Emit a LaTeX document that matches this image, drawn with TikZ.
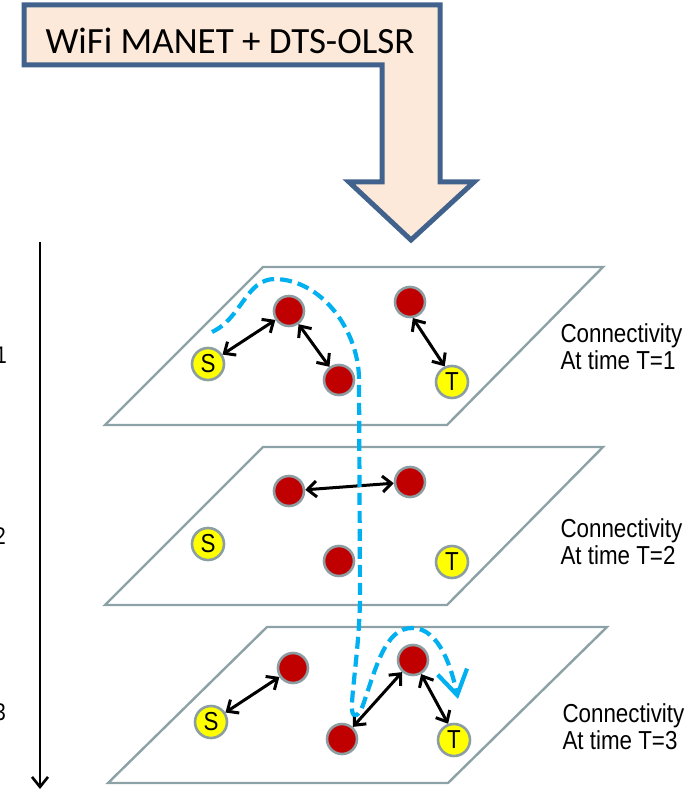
\documentclass[tikz,border=0pt]{standalone}
\usepackage{fontspec}
\setmainfont{Liberation Sans}
\newfontfamily\titlefont{Carlito}
\newfontfamily\narrowfont[FakeStretch=0.86]{Liberation Sans}
\usetikzlibrary{arrows.meta}

\definecolor{arrowedge}{RGB}{65,98,140}
\definecolor{arrowfill}{RGB}{253,233,217}
\definecolor{planeedge}{RGB}{140,162,166}
\definecolor{nodeedge}{RGB}{140,158,162}
\definecolor{nodered}{RGB}{192,0,0}
\definecolor{nodeyellow}{RGB}{255,255,0}
\definecolor{routeblue}{RGB}{0,176,240}

\tikzset{
  plane/.style={draw=planeedge, line width=2.4pt, fill=white},
  relay/.style={circle, fill=nodered, draw=nodeedge, line width=2.6pt,
    minimum size=30pt, inner sep=0pt},
  endpoint/.style={circle, fill=nodeyellow, draw=nodeedge, line width=2.6pt,
    minimum size=32pt, inner sep=0pt,
    font=\narrowfont\fontsize{26pt}{26pt}\selectfont},
  link/.style={line width=3pt, black,
    {Straight Barb[length=9pt,width=16pt]}-{Straight Barb[length=9pt,width=16pt]}},
  route/.style={routeblue, line width=4.2pt, dash pattern=on 12pt off 6pt},
  caption/.style={anchor=west, align=left,
    font=\narrowfont\fontsize{26pt}{27pt}\selectfont},
  tick/.style={anchor=east, inner sep=0pt,
    font=\narrowfont\fontsize{24pt}{24pt}\selectfont}
}

\begin{document}
\begin{tikzpicture}[x=1pt, y=-1pt]
\useasboundingbox (0,0) rectangle (695,791);

% bent banner arrow
\draw[arrowedge, fill=arrowfill, line width=5pt, line join=miter]
  (24,5) -- (440,5) -- (440,182) -- (474,182) -- (411,240)
  -- (349,182) -- (382,182) -- (382,65) -- (24,65) -- cycle;
\node[font=\titlefont\fontsize{37pt}{37pt}\selectfont] (title) at (230,41)
  {WiFi MANET + DTS-OLSR};

% time axis
\coordinate (ttop) at (40,242);
\coordinate (tbot) at (40,789);
\draw[line width=2.6pt, -{Straight Barb[length=10pt,width=16pt]}] (ttop) -- (tbot);
\node[tick] (k1) at (7,355) {1};
\node[tick] (k2) at (6,536) {2};
\node[tick] (k3) at (6,712) {3};

% time slices
\draw[plane] (263,267) -- (603,267) -- (447,425) -- (105,425) -- cycle;
\draw[plane] (263,447) -- (603,447) -- (447,605) -- (105,605) -- cycle;
\draw[plane] (267,627) -- (607,627) -- (448,783) -- (108,783) -- cycle;

% slice T=1
\node[endpoint] (s1) at (208,364) {S};
\node[relay] (a1) at (289,311) {};
\node[relay] (b1) at (339,380) {};
\node[relay] (c1) at (410,302) {};
\node[endpoint] (t1) at (452,382) {T};
\draw[link] (s1) -- (a1);
\draw[link] (a1) -- (b1);
\draw[link] (c1.-80) -- (t1.115);
\node[caption] (l1) at (557,347) {Connectivity\\At time T=1};

% slice T=2
\node[endpoint] (s2) at (208,544) {S};
\node[relay] (a2) at (289,491) {};
\node[relay] (c2) at (410,482) {};
\node[relay] (b2) at (339,561) {};
\node[endpoint] (t2) at (452,562) {T};
\draw[link] (a2) -- (c2);
\node[caption] (l2) at (557,542) {Connectivity\\At time T=2};

% slice T=3
\node[relay] (a3) at (293,668) {};
\node[endpoint] (s3) at (211,722) {S};
\node[relay] (b3) at (342,739) {};
\node[relay] (c3) at (413,660) {};
\node[endpoint] (t3) at (454,740) {T};
\draw[link] (s3) -- (a3);
\draw[link] (b3) -- (c3);
\draw[link] (c3.-60) -- (t3.110);
\node[caption] (l3) at (559,727) {Connectivity\\At time T=3};

% route found across the slices
\coordinate (r0) at (212,332);
\coordinate (r9) at (458,699);
\draw[route, -{Straight Barb[length=24pt,width=30pt,line width=4.2pt]}]
  (r0) .. controls (242,318) and (246,279) .. (275,279)
  .. controls (322,280) and (358,330) .. (359,378)
  -- (360,600)
  .. controls (359,650) and (351,695) .. (352,710)
  .. controls (353,719) and (359,716) .. (363,705)
  .. controls (376,668) and (385,628) .. (412,628)
  .. controls (440,628) and (452,670) .. (r9);
\end{tikzpicture}
\end{document}
